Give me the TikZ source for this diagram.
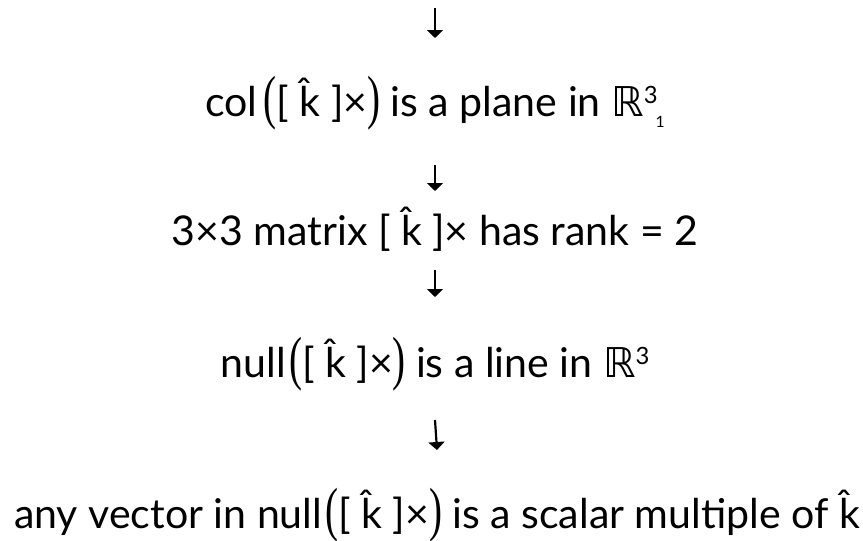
\documentclass[tikz,border=0pt]{standalone}
\usepackage{fontspec}
\usepackage{graphicx}
\setmainfont{Lato}
\newfontfamily\symfont{DejaVu Sans}
\newfontfamily\parfont{Liberation Serif}
\usetikzlibrary{arrows.meta}
\newlength\Lw
\newsavebox\Lbox
\newcommand{\kh}{\^{k}}
\newcommand{\lp}{\raisebox{-0.04em}{\parfont\scalebox{0.95}[1.45]{(}}}
\newcommand{\rp}{\raisebox{-0.04em}{\parfont\scalebox{0.95}[1.45]{)}}}
\newcommand{\RR}{{\symfont ℝ}}
\newcommand{\kx}{[ \kh{} ]×}
\newcommand{\supthree}{\raisebox{0.30em}{\scalebox{0.58}{3}}}
\newcommand{\subone}{\kern-0.05em\raisebox{-0.28em}{\scalebox{0.38}{1}}}
\newcommand{\lineiv}{any vector in null\hspace{0.08em}\lp\kx\rp\hspace{0.25em}is a scalar multiple of \kh}
\AtBeginDocument{%
  \sbox\Lbox{\fontsize{10}{12}\selectfont\lineiv}%
  \global\Lw=\wd\Lbox
  \pgfmathsetmacro\fs{min(max(8460/\Lw,20),70)}%
  \xdef\fs{\fs}}
\tikzset{
  txt/.style={inner sep=0pt, anchor=base, font=\fontsize{\fs}{\fs}\selectfont},
  arr/.style={line width=2.2pt, -{Triangle[width=16pt,length=8pt]}}
}
\begin{document}
\begin{tikzpicture}[x=1pt,y=-1pt]
\useasboundingbox (0,0) rectangle (863,541);
\coordinate (top) at (435,8);
\node[txt] (l1) at (435,116) {col\hspace{0.15em}\lp\kx\rp\hspace{0.25em}is a plane in \RR\supthree\subone};
\node[txt] (l2) at (435,245) {3×3 matrix \kx{} has rank = 2};
\node[txt] (l3) at (435,377) {null\hspace{0.08em}\lp\kx\rp\hspace{0.25em}is a line in \RR\supthree};
\node[txt] (l4) at (437,528) {\lineiv};
\draw[arr] (top) -- ([yshift=78pt]l1.base);
\draw[arr] ([yshift=-49pt]l1.base) -- ([yshift=54pt]l2.base);
\draw[arr] ([yshift=-25pt]l2.base) -- ([yshift=80pt]l3.base);
\draw[arr] ([yshift=-43pt]l3.base) -- ([yshift=78pt]l4.base);
\end{tikzpicture}
\end{document}
